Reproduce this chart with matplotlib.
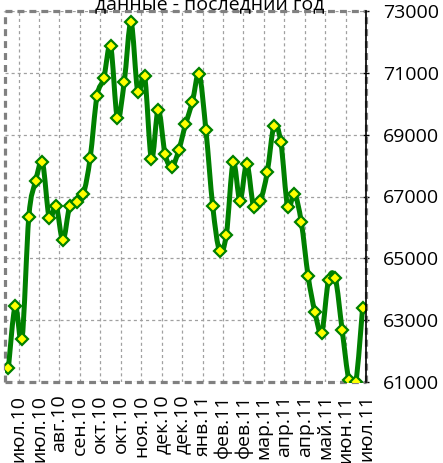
import numpy as np
import matplotlib
matplotlib.use("Agg")
import matplotlib.pyplot as plt
from matplotlib.path import Path
from matplotlib.patches import PathPatch
from matplotlib.lines import Line2D

plt.rcParams['font.family'] = ['Open Sans', 'DejaVu Sans']
plt.rcParams['lines.scale_dashes'] = False

# Weekly values over the last year
values = [61450, 63450, 62400, 66350, 67500, 68100, 66300, 66700, 65580, 66700,
          66820, 67070, 68240, 70240, 70820, 71870, 69530, 70690, 72630, 70370,
          70890, 68210, 69810, 68370, 67960, 68490, 69330, 70050, 70960, 69140,
          66680, 65240, 65770, 68100, 66870, 68060, 66670, 66870, 67780, 69290,
          68750, 66670, 67090, 66170, 64430, 63260, 62600, 64300, 64350, 62680,
          61060, 61000, 63390]

month_labels = ["июл.10", "июл.10", "авг.10", "сен.10", "окт.10", "окт.10",
                "ноя.10", "дек.10", "дек.10", "янв.11", "фев.11", "фев.11",
                "мар.11", "апр.11", "апр.11", "май.11", "июн.11", "июл.11"]

y_ticks = [61000, 63000, 65000, 67000, 69000, 71000, 73000]
title = "данные - последний год"

W, H = 443, 463
fig = plt.figure(figsize=(W / 100, H / 100), dpi=100)
ax = fig.add_axes([5 / W, 1 - 382 / H, (366 - 5) / W, (382 - 11) / H])

x = np.arange(len(values), dtype=float)
y = np.array(values, dtype=float)

# Smoothed line: cubic Bezier segments with Catmull-Rom control points
pts = np.column_stack([x, y])
ext = np.vstack([pts[0], pts, pts[-1]])
verts = [tuple(pts[0])]
codes = [Path.MOVETO]
for i in range(len(pts) - 1):
    p0, p1, p2, p3 = ext[i], ext[i + 1], ext[i + 2], ext[i + 3]
    c1 = p1 + (p2 - p0) / 6.0
    c2 = p2 - (p3 - p1) / 6.0
    verts += [tuple(c1), tuple(c2), tuple(p2)]
    codes += [Path.CURVE4, Path.CURVE4, Path.CURVE4]
curve = PathPatch(Path(verts, codes), facecolor='none', edgecolor='#008000',
                  lw=3.6, capstyle='round', joinstyle='round', zorder=3)
ax.add_patch(curve)

ax.plot(x, y, linestyle='none', marker='D', markersize=6.4,
        markerfacecolor='#ffff00', markeredgecolor='#008000',
        markeredgewidth=1.6, zorder=4)

ax.set_xlim(-0.5, len(values) - 0.5)
ax.set_ylim(61000, 73000)

# Month labels every three weeks
tick_pos = [1.5 + 3 * k for k in range(len(month_labels))]
ax.set_xticks(tick_pos)
ax.set_xticklabels(month_labels, rotation=90, fontsize=14, va='top', ha='center')
ax.tick_params(axis='x', length=0, pad=9)

ax.yaxis.tick_right()
ax.set_yticks(y_ticks)
ax.set_yticklabels([str(v) for v in y_ticks], fontsize=14)
ax.tick_params(axis='y', direction='inout', length=4.5, width=1, pad=10,
               color='black', right=True, left=False)

ax.grid(True, color='#a0a0a0', linestyle=(0, (2.2, 2.2)), linewidth=0.9)
ax.set_axisbelow(True)

# Dashed plot-area border with a solid value axis on the right
for side in ax.spines:
    ax.spines[side].set_visible(False)
border_style = dict(color='#808080', lw=2.3, dashes=(5.0, 3.6),
                    dash_capstyle='butt', transform=ax.transAxes,
                    clip_on=False, zorder=2)
ax.add_line(Line2D([0, 1], [1, 1], **border_style))
ax.add_line(Line2D([0, 1], [0, 0], **border_style))
ax.add_line(Line2D([0, 0], [0, 1], **border_style))
ax.add_line(Line2D([1, 1], [0, 1], **border_style))
ax.add_line(Line2D([1, 1], [0, 1], color='black', lw=1.2,
                   transform=ax.transAxes, clip_on=False, zorder=5))

fig.text(210 / W, 1 - 9 / H, title, fontsize=14, ha='center', va='baseline')

fig.savefig('out.png', dpi=100)
